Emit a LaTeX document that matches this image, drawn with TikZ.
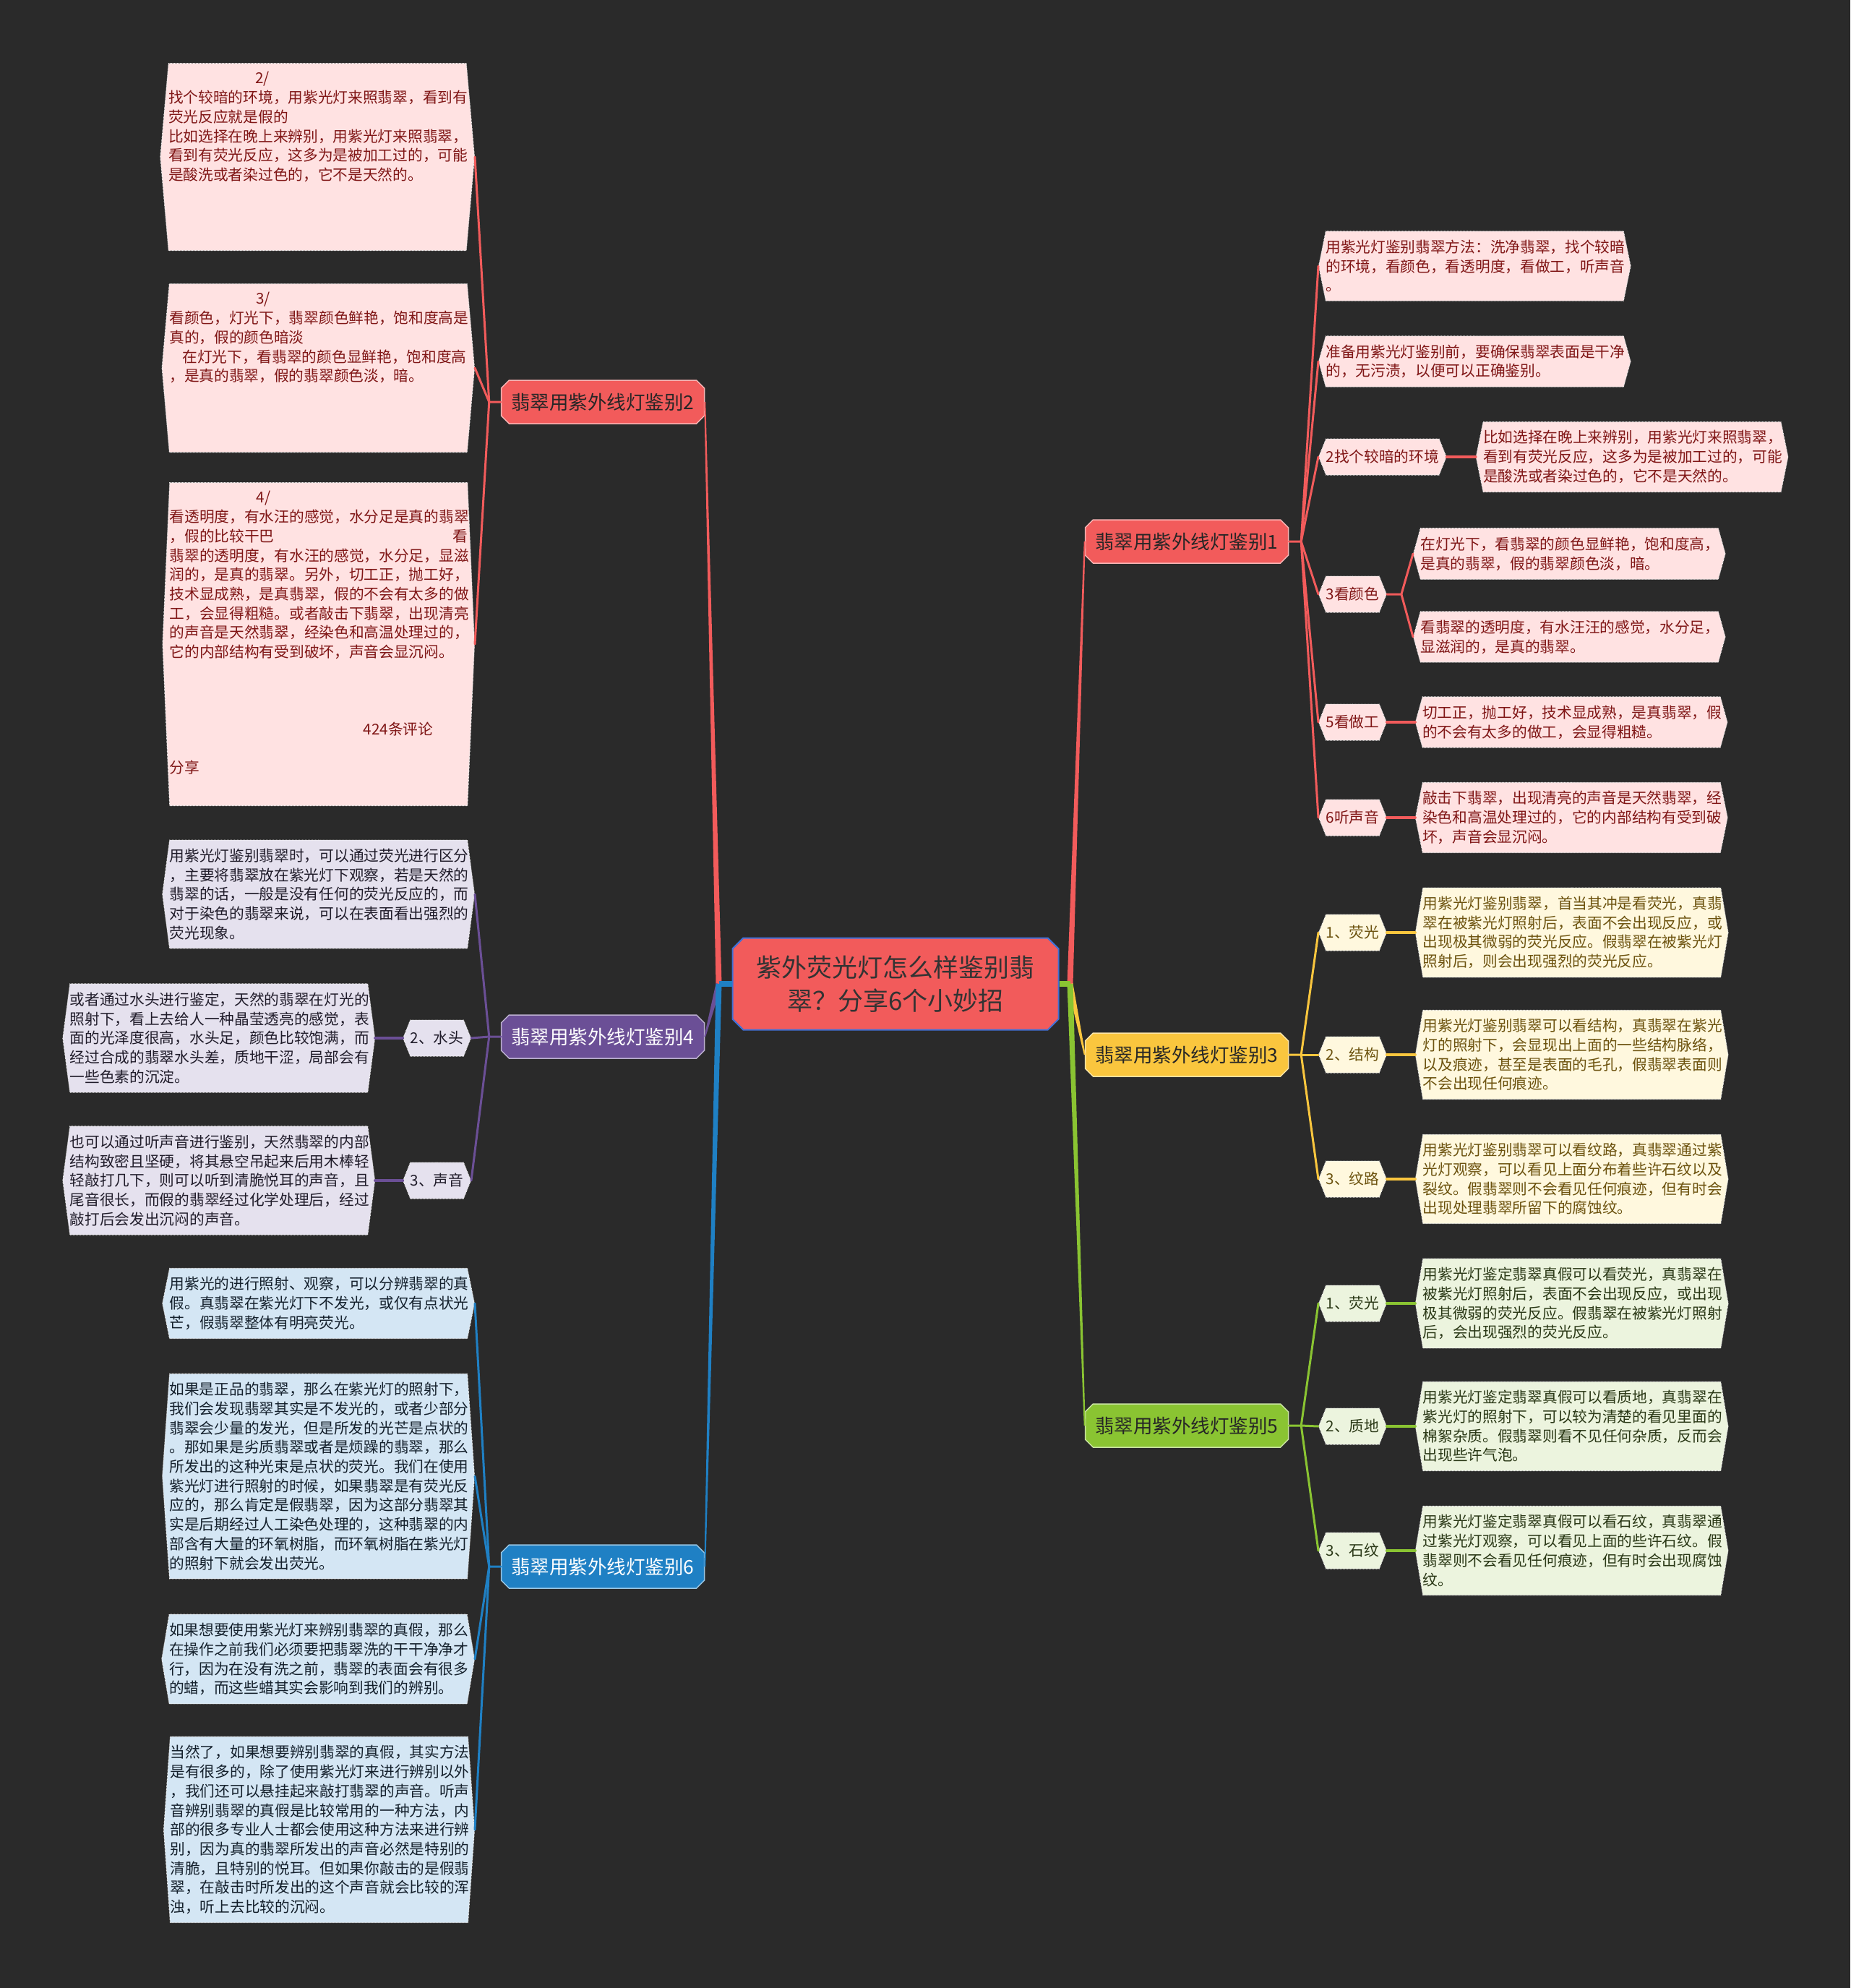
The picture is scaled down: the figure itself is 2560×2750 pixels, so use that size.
\documentclass[tikz,border=0pt]{standalone}
\usepackage{fontspec}
\newfontfamily\cjk{Noto Sans CJK SC}
\definecolor{MapBg}{RGB}{42,42,42}
\definecolor{JadeRed}{RGB}{242,91,91}
\definecolor{JadePurple}{RGB}{107,79,150}
\definecolor{JadeBlue}{RGB}{31,128,196}
\definecolor{JadeYellow}{RGB}{250,198,62}
\definecolor{JadeGreen}{RGB}{138,196,50}
\definecolor{CoreEdge}{RGB}{64,112,214}
\definecolor{RedLeaf}{RGB}{255,226,226}
\definecolor{RedInk}{RGB}{128,22,22}
\definecolor{PurpleLeaf}{RGB}{229,225,238}
\definecolor{PurpleInk}{RGB}{32,28,42}
\definecolor{BlueLeaf}{RGB}{212,230,244}
\definecolor{BlueInk}{RGB}{20,32,44}
\definecolor{YellowLeaf}{RGB}{255,248,222}
\definecolor{YellowInk}{RGB}{108,82,14}
\definecolor{GreenLeaf}{RGB}{236,244,222}
\definecolor{GreenInk}{RGB}{42,56,22}
\usepackage{tikz}
\usetikzlibrary{calc, positioning, shapes.misc, shapes.symbols}

\newcommand{\taper}[4]{%
  \fill[#1] ($(#2)!#4!90:(#3)$) -- ($(#3)!1pt!-90:(#2)$) -- ($(#3)!1pt!90:(#2)$) -- ($(#2)!#4!-90:(#3)$) -- cycle;}
\newcommand{\tallbox}[2]{\parbox[c][#1][t]{412pt}{\raggedright #2}}

\begin{document}
\begin{tikzpicture}[x=1pt, y=-1pt,
	core/.style={chamfered rectangle, chamfered rectangle xsep=12pt, draw=CoreEdge, line width=2pt, fill=JadeRed, text=black!80, align=center, minimum width=451pt, minimum height=127pt, inner sep=0pt, font=\cjk\fontsize{35}{46}\selectfont},
	branch/.style={chamfered rectangle, chamfered rectangle xsep=8pt, fill=#1, draw=white!55!#1, line width=1.5pt, minimum width=281pt, minimum height=60pt, inner sep=0pt, font=\cjk\fontsize{26.5}{30}\selectfont},
	leaf/.style={signal, signal to=west and east, signal pointer angle=#1, draw=white!85!gray, densely dotted, line width=1pt, align=left, text width=412pt, inner xsep=0pt, inner ysep=12pt, font=\cjk\fontsize{20.7}{26.7}\selectfont},
	leaf/.default=157,
	tag/.style={signal, signal to=west and east, signal pointer angle=136, draw=white!85!gray, densely dotted, line width=1pt, minimum height=50pt, inner xsep=0pt, inner ysep=0pt, font=\cjk\fontsize{20.7}{26.7}\selectfont},
	onred/.style={fill=RedLeaf, text=RedInk},
	onpurple/.style={fill=PurpleLeaf, text=PurpleInk},
	onblue/.style={fill=BlueLeaf, text=BlueInk},
	onyellow/.style={fill=YellowLeaf, text=YellowInk},
	ongreen/.style={fill=GreenLeaf, text=GreenInk},
	wire/.style={draw=#1, line width=3pt, line cap=round, line join=round},
	node distance=39pt]
	\useasboundingbox (0,0) rectangle (2560,2750);
	\fill[MapBg] (0,0) rectangle (2560,2750);

	% centre and main branches
	\node[core] (c) at (1239,1361) {紫外荧光灯怎么样鉴别翡\\翠？分享6个小妙招};
	\node[branch=JadeRed, text=black!85] (b1) at (1642,749) {翡翠用紫外线灯鉴别1};
	\node[branch=JadeRed, text=black!85] (b2) at (834,556) {翡翠用紫外线灯鉴别2};
	\node[branch=JadeYellow, text=black!85] (b3) at (1642,1459) {翡翠用紫外线灯鉴别3};
	\node[branch=JadePurple, text=white] (b4) at (834,1434) {翡翠用紫外线灯鉴别4};
	\node[branch=JadeGreen, text=black!85] (b5) at (1642,1972) {翡翠用紫外线灯鉴别5};
	\node[branch=JadeBlue, text=white] (b6) at (834,2167) {翡翠用紫外线灯鉴别6};

	% branch 1
	\node[leaf, onred, anchor=west] (r1a) at (1824,368) {用紫光灯鉴别翡翠方法：洗净翡翠，找个较暗\\的环境，看颜色，看透明度，看做工，听声音\\。};
	\node[leaf=149, onred, anchor=west] (r1b) at (1824,500) {准备用紫光灯鉴别前，要确保翡翠表面是干净\\的，无污渍，以便可以正确鉴别。};
	\node[tag, onred, anchor=west] (s1c) at (1824,632) {2找个较暗的环境};
	\node[leaf, onred, right=40pt of s1c] (r1c) {比如选择在晚上来辨别，用紫光灯来照翡翠，\\看到有荧光反应，这多为是被加工过的，可能\\是酸洗或者染过色的，它不是天然的。};
	\node[tag, onred, anchor=west] (s1d) at (1824,822) {3看颜色};
	\node[leaf=149, onred, anchor=west] (r1d1) at (1955,766) {在灯光下，看翡翠的颜色显鲜艳，饱和度高，\\是真的翡翠，假的翡翠颜色淡，暗。};
	\node[leaf=149, onred, anchor=west] (r1d2) at (1955,881) {看翡翠的透明度，有水汪汪的感觉，水分足，\\显滋润的，是真的翡翠。};
	\node[tag, onred, anchor=west] (s1e) at (1824,999) {5看做工};
	\node[leaf=149, onred, right=of s1e] (r1e) {切工正，抛工好，技术显成熟，是真翡翠，假\\的不会有太多的做工，会显得粗糙。};
	\node[tag, onred, anchor=west] (s1f) at (1824,1131) {6听声音};
	\node[leaf, onred, right=of s1f] (r1f) {敲击下翡翠，出现清亮的声音是天然翡翠，经\\染色和高温处理过的，它的内部结构有受到破\\坏，声音会显沉闷。};

	% branch 3
	\node[tag, onyellow, anchor=west] (s3a) at (1824,1290) {1、荧光};
	\node[leaf=161, onyellow, right=of s3a] (r3a) {用紫光灯鉴别翡翠，首当其冲是看荧光，真翡\\翠在被紫光灯照射后，表面不会出现反应，或\\出现极其微弱的荧光反应。假翡翠在被紫光灯\\照射后，则会出现强烈的荧光反应。};
	\node[tag, onyellow, anchor=west] (s3b) at (1824,1459) {2、结构};
	\node[leaf=161, onyellow, right=of s3b] (r3b) {用紫光灯鉴别翡翠可以看结构，真翡翠在紫光\\灯的照射下，会显现出上面的一些结构脉络，\\以及痕迹，甚至是表面的毛孔，假翡翠表面则\\不会出现任何痕迹。};
	\node[tag, onyellow, anchor=west] (s3c) at (1824,1631) {3、纹路};
	\node[leaf=161, onyellow, right=of s3c] (r3c) {用紫光灯鉴别翡翠可以看纹路，真翡翠通过紫\\光灯观察，可以看见上面分布着些许石纹以及\\裂纹。假翡翠则不会看见任何痕迹，但有时会\\出现处理翡翠所留下的腐蚀纹。};

	% branch 5
	\node[tag, ongreen, anchor=west] (s5a) at (1824,1803) {1、荧光};
	\node[leaf=161, ongreen, right=of s5a] (r5a) {用紫光灯鉴定翡翠真假可以看荧光，真翡翠在\\被紫光灯照射后，表面不会出现反应，或出现\\极其微弱的荧光反应。假翡翠在被紫光灯照射\\后，会出现强烈的荧光反应。};
	\node[tag, ongreen, anchor=west] (s5b) at (1824,1973) {2、质地};
	\node[leaf=161, ongreen, right=of s5b] (r5b) {用紫光灯鉴定翡翠真假可以看质地，真翡翠在\\紫光灯的照射下，可以较为清楚的看见里面的\\棉絮杂质。假翡翠则看不见任何杂质，反而会\\出现些许气泡。};
	\node[tag, ongreen, anchor=west] (s5c) at (1824,2145) {3、石纹};
	\node[leaf=161, ongreen, right=of s5c] (r5c) {用紫光灯鉴定翡翠真假可以看石纹，真翡翠通\\过紫光灯观察，可以看见上面的些许石纹。假\\翡翠则不会看见任何痕迹，但有时会出现腐蚀\\纹。};

	% branch 2
	\node[leaf=170, onred, anchor=east] (l2a) at (657,217) {\tallbox{235pt}{\hspace*{120pt}2/\\找个较暗的环境，用紫光灯来照翡翠，看到有\\荧光反应就是假的\\比如选择在晚上来辨别，用紫光灯来照翡翠，\\看到有荧光反应，这多为是被加工过的，可能\\是酸洗或者染过色的，它不是天然的。}};
	\node[leaf=170, onred, anchor=east] (l2b) at (657,509) {\tallbox{209pt}{\hspace*{120pt}3/\\看颜色，灯光下，翡翠颜色鲜艳，饱和度高是\\真的，假的颜色暗淡\\\hspace*{18pt}在灯光下，看翡翠的颜色显鲜艳，饱和度高\\，是真的翡翠，假的翡翠颜色淡，暗。}};
	\node[leaf=175, onred, anchor=east] (l2c) at (657,891) {\tallbox{423pt}{\hspace*{120pt}4/\\看透明度，有水汪的感觉，水分足是真的翡翠\\，假的比较干巴\hfill 看\\翡翠的透明度，有水汪的感觉，水分足，显滋\\润的，是真的翡翠。另外，切工正，抛工好，\\技术显成熟，是真翡翠，假的不会有太多的做\\工，会显得粗糙。或者敲击下翡翠，出现清亮\\的声音是天然翡翠，经染色和高温处理过的，\\它的内部结构有受到破坏，声音会显沉闷。\\\mbox{}\\\mbox{}\\\mbox{}\\\hspace*{268pt}424条评论\\\mbox{}\\分享}};

	% branch 4
	\node[leaf=165, onpurple, anchor=east] (l4a) at (657,1237) {用紫光灯鉴别翡翠时，可以通过荧光进行区分\\，主要将翡翠放在紫光灯下观察，若是天然的\\翡翠的话，一般是没有任何的荧光反应的，而\\对于染色的翡翠来说，可以在表面看出强烈的\\荧光现象。};
	\node[tag, onpurple, anchor=east] (s4b) at (652,1436) {2、水头};
	\node[leaf=165, onpurple, left=38pt of s4b] (l4b) {或者通过水头进行鉴定，天然的翡翠在灯光的\\照射下，看上去给人一种晶莹透亮的感觉，表\\面的光泽度很高，水头足，颜色比较饱满，而\\经过合成的翡翠水头差，质地干涩，局部会有\\一些色素的沉淀。};
	\node[tag, onpurple, anchor=east] (s4c) at (652,1633) {3、声音};
	\node[leaf=165, onpurple, left=38pt of s4c] (l4c) {也可以通过听声音进行鉴别，天然翡翠的内部\\结构致密且坚硬，将其悬空吊起来后用木棒轻\\轻敲打几下，则可以听到清脆悦耳的声音，且\\尾音很长，而假的翡翠经过化学处理后，经过\\敲打后会发出沉闷的声音。};

	% branch 6
	\node[leaf, onblue, anchor=east] (l6a) at (657,1803) {用紫光的进行照射、观察，可以分辨翡翠的真\\假。真翡翠在紫光灯下不发光，或仅有点状光\\芒，假翡翠整体有明亮荧光。};
	\node[leaf=172, onblue, anchor=east] (l6b) at (657,2042) {如果是正品的翡翠，那么在紫光灯的照射下，\\我们会发现翡翠其实是不发光的，或者少部分\\翡翠会少量的发光，但是所发的光芒是点状的\\。那如果是劣质翡翠或者是烦躁的翡翠，那么\\所发出的这种光束是点状的荧光。我们在使用\\紫光灯进行照射的时候，如果翡翠是有荧光反\\应的，那么肯定是假翡翠，因为这部分翡翠其\\实是后期经过人工染色处理的，这种翡翠的内\\部含有大量的环氧树脂，而环氧树脂在紫光灯\\的照射下就会发出荧光。};
	\node[leaf=161, onblue, anchor=east] (l6c) at (657,2295) {如果想要使用紫光灯来辨别翡翠的真假，那么\\在操作之前我们必须要把翡翠洗的干干净净才\\行，因为在没有洗之前，翡翠的表面会有很多\\的蜡，而这些蜡其实会影响到我们的辨别。};
	\node[leaf=172, onblue, anchor=east] (l6d) at (657,2531) {当然了，如果想要辨别翡翠的真假，其实方法\\是有很多的，除了使用紫光灯来进行辨别以外\\，我们还可以悬挂起来敲打翡翠的声音。听声\\音辨别翡翠的真假是比较常用的一种方法，内\\部的很多专业人士都会使用这种方法来进行辨\\别，因为真的翡翠所发出的声音必然是特别的\\清脆，且特别的悦耳。但如果你敲击的是假翡\\翠，在敲击时所发出的这个声音就会比较的浑\\浊，听上去比较的沉闷。};

	% trunks from the centre
	\coordinate (jr) at ([xshift=15pt]c.east);
	\coordinate (jl) at ([xshift=-18pt]c.west);
	\taper{JadeRed}{jr}{b1.west}{4pt}
	\taper{JadeYellow}{jr}{b3.west}{4pt}
	\taper{JadeGreen}{jr}{b5.west}{4pt}
	\draw[JadeGreen, line width=8pt] (c.east) -- (jr);
	\taper{JadeRed}{jl}{b2.east}{4pt}
	\taper{JadePurple}{jl}{b4.east}{4pt}
	\taper{JadeBlue}{jl}{b6.east}{4pt}
	\draw[JadeBlue, line width=8pt] (c.west) -- (jl);

	% right side wires
	\coordinate (j1) at ([xshift=17pt]b1.east);
	\draw[wire=JadeRed] (b1.east) -- (j1) -- (r1a.west);
	\draw[wire=JadeRed] (j1) -- (r1b.west); \draw[wire=JadeRed] (j1) -- (s1c.west);
	\draw[wire=JadeRed] (j1) -- (s1d.west); \draw[wire=JadeRed] (j1) -- (s1e.west);
	\draw[wire=JadeRed] (j1) -- (s1f.west);
	\draw[wire=JadeRed, line width=4pt] (s1c.east) -- (r1c.west);
	\coordinate (j1d) at ([xshift=20pt]s1d.east);
	\draw[wire=JadeRed] (s1d.east) -- (j1d) -- (r1d1.west); \draw[wire=JadeRed] (j1d) -- (r1d2.west);
	\draw[wire=JadeRed, line width=4pt] (s1e.east) -- (r1e.west);
	\draw[wire=JadeRed, line width=4pt] (s1f.east) -- (r1f.west);
	\coordinate (j3) at ([xshift=17pt]b3.east);
	\draw[wire=JadeYellow] (b3.east) -- (j3) -- (s3a.west);
	\draw[wire=JadeYellow] (j3) -- (s3b.west); \draw[wire=JadeYellow] (j3) -- (s3c.west);
	\draw[wire=JadeYellow, line width=4pt] (s3a.east) -- (r3a.west);
	\draw[wire=JadeYellow, line width=4pt] (s3b.east) -- (r3b.west);
	\draw[wire=JadeYellow, line width=4pt] (s3c.east) -- (r3c.west);
	\coordinate (j5) at ([xshift=17pt]b5.east);
	\draw[wire=JadeGreen] (b5.east) -- (j5) -- (s5a.west);
	\draw[wire=JadeGreen] (j5) -- (s5b.west); \draw[wire=JadeGreen] (j5) -- (s5c.west);
	\draw[wire=JadeGreen, line width=4pt] (s5a.east) -- (r5a.west);
	\draw[wire=JadeGreen, line width=4pt] (s5b.east) -- (r5b.west);
	\draw[wire=JadeGreen, line width=4pt] (s5c.east) -- (r5c.west);

	% left side wires
	\coordinate (j2) at ([xshift=-16pt]b2.west);
	\draw[wire=JadeRed] (b2.west) -- (j2) -- (l2a.east);
	\draw[wire=JadeRed] (j2) -- (l2b.east); \draw[wire=JadeRed] (j2) -- (l2c.east);
	\coordinate (j4) at ([xshift=-16pt]b4.west);
	\draw[wire=JadePurple] (b4.west) -- (j4) -- (l4a.east);
	\draw[wire=JadePurple] (j4) -- (s4b.east); \draw[wire=JadePurple] (j4) -- (s4c.east);
	\draw[wire=JadePurple, line width=4pt] (s4b.west) -- (l4b.east);
	\draw[wire=JadePurple, line width=4pt] (s4c.west) -- (l4c.east);
	\coordinate (j6) at ([xshift=-16pt]b6.west);
	\draw[wire=JadeBlue] (b6.west) -- (j6) -- (l6a.east);
	\draw[wire=JadeBlue] (j6) -- (l6b.east); \draw[wire=JadeBlue] (j6) -- (l6c.east);
	\draw[wire=JadeBlue] (j6) -- (l6d.east);
\end{tikzpicture}
\end{document}
